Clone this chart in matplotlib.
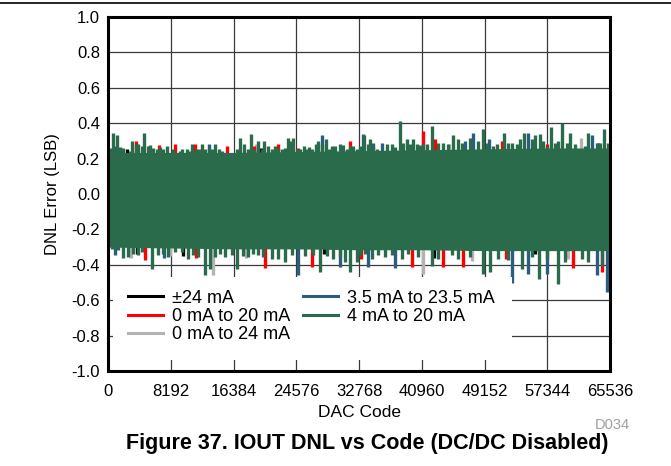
import numpy as np
import matplotlib
matplotlib.use('Agg')
import matplotlib.pyplot as plt
from matplotlib.lines import Line2D
from matplotlib.patches import Rectangle

plt.rcParams['font.family'] = ['Liberation Sans', 'DejaVu Sans']

# ----- data -----
x_ticks = [0, 8192, 16384, 24576, 32768, 40960, 49152, 57344, 65536]
y_ticks = [-1.0, -0.8, -0.6, -0.4, -0.2, 0.0, 0.2, 0.4, 0.6, 0.8, 1.0]

# dense body of the DNL traces (envelope)
band_codes = [0, 8192, 16384, 24576, 32768, 40960, 49152, 57344, 65536]
band_top = [0.235, 0.235, 0.235, 0.24, 0.245, 0.25, 0.255, 0.26, 0.26]
band_bot = [-0.30, -0.305, -0.31, -0.31, -0.315, -0.315, -0.32, -0.32, -0.32]

# green (4 mA to 20 mA) outline, top edge
green_up_codes = [222, 658, 1093, 1529, 1964, 2835, 3140, 3576, 3924, 4360, 4708, 5143, 5448,
                  5884, 6319, 6755, 7190, 7626, 8497, 9368, 9673, 10239, 10674, 10979, 11415,
                  11850, 12286, 12634, 13157, 13592, 13940, 14463, 14898, 16771, 17207, 17773,
                  18208, 18600, 19080, 19602, 20038, 20386, 20821, 21344, 21780, 22215, 22651,
                  23086, 23522, 23870, 24175, 24610, 25046, 25612, 25917, 26222, 26658, 27093,
                  27441, 27877, 28443, 28835, 29270, 29619, 30272, 30707, 31143, 31578, 32014,
                  32449, 32885, 33450, 33886, 34191, 34626, 35062, 36368, 37022, 37457, 38110,
                  38546, 38981, 39417, 39852, 40288, 40723, 41159, 41594, 42335, 43119, 43772,
                  44425, 45078, 45732, 46167, 47256, 48345, 48998, 49433, 50304, 50740, 51741,
                  52264, 52700, 53353, 53788, 54354, 55312, 55748, 56401, 56837, 57272, 57795,
                  58361, 58797, 59320, 59885, 60321, 60974, 62281, 62716, 63805, 64241, 64807,
                  65329]
green_up_vals = [0.262, 0.347, 0.332, 0.267, 0.262, 0.242, 0.30, 0.28, 0.28, 0.271, 0.347, 0.271, 0.275,
                 0.262, 0.252, 0.267, 0.252, 0.271, 0.256, 0.242, 0.256, 0.252, 0.242, 0.28, 0.256,
                 0.256, 0.28, 0.256, 0.26, 0.252, 0.284, 0.252, 0.242, 0.256, 0.315, 0.28,
                 0.256, 0.337, 0.256, 0.30, 0.256, 0.30, 0.271, 0.256, 0.271, 0.262, 0.252,
                 0.262, 0.316, 0.30, 0.315, 0.252, 0.256, 0.271, 0.256, 0.267, 0.256, 0.28,
                 0.30, 0.28, 0.31, 0.256, 0.271, 0.271, 0.284, 0.275, 0.256, 0.27, 0.271,
                 0.256, 0.271, 0.332, 0.28, 0.313, 0.27, 0.252, 0.28, 0.284, 0.267, 0.413,
                 0.29, 0.309, 0.28, 0.313, 0.28, 0.275, 0.28, 0.28, 0.385, 0.29, 0.29,
                 0.28, 0.332, 0.309, 0.29, 0.319, 0.30, 0.366, 0.29, 0.271, 0.28, 0.347,
                 0.29, 0.29, 0.28, 0.309, 0.347, 0.309, 0.332, 0.337, 0.30, 0.271, 0.381,
                 0.29, 0.30, 0.40, 0.29, 0.347, 0.28, 0.271, 0.347, 0.29, 0.29, 0.366,
                 0.29]
# green bottom edge
green_dn_codes = [440, 1311, 1964, 2618, 3271, 3924, 4360, 5666, 6537, 7190, 7844, 8715, 9586,
                  10457, 11110, 11763, 12634, 13287, 13941, 14594, 15247, 16118, 16771, 17642,
                  18296, 18949, 19602, 20255, 21344, 22215, 23086, 23957, 25699, 26787, 27659,
                  28530, 29400, 30272, 30925, 31578, 32449, 32884, 33538, 34409, 35280, 36151,
                  37022, 38328, 39199, 40506, 42248, 43119, 44861, 45732, 47256, 48998, 49869,
                  50958, 52264, 54006, 55312, 56271, 57272, 58797, 59668, 61846, 62716, 64458]
green_dn_vals = [-0.309, -0.318, -0.36, -0.357, -0.337, -0.347, -0.328, -0.423, -0.347, -0.337, -0.357, -0.328, -0.328,
                 -0.37, -0.347, -0.357, -0.457, -0.423, -0.357, -0.337, -0.357, -0.347, -0.423, -0.35,
                 -0.357, -0.337, -0.347, -0.357, -0.37, -0.37, -0.385, -0.347, -0.35, -0.347, -0.442,
                 -0.35, -0.37, -0.357, -0.385, -0.442, -0.385, -0.347, -0.337, -0.366, -0.347, -0.357,
                 -0.347, -0.366, -0.337, -0.357, -0.404, -0.366, -0.347, -0.366, -0.357, -0.452, -0.442,
                 -0.366, -0.375, -0.423, -0.357, -0.481, -0.366, -0.509, -0.385, -0.366, -0.385, -0.404]

# other series where they show outside the green trace
red_up_codes = [3576, 6624, 8714, 11334, 15500, 19000, 22215, 24800, 31578, 41159, 42683,
                51393, 57300, 64000]
red_up_vals = [0.30, 0.275, 0.284, 0.28, 0.27, 0.27, 0.28, 0.26, 0.30, 0.356, 0.309,
               0.30, 0.28, 0.29]
blue_up_codes = [900, 13157, 27877, 33320, 34626, 35715, 46603, 47691, 49738, 54877, 63152]
blue_up_vals = [0.27, 0.284, 0.332, 0.337, 0.29, 0.29, 0.30, 0.343, 0.313, 0.343, 0.332]
black_up_codes = [2400, 19900]
black_up_vals = [0.256, 0.26]
gray_up_codes = [19300, 44500, 61758]
gray_up_vals = [0.28, 0.28, 0.319]

red_dn_codes = [4800, 11500, 20470, 26660, 33000, 39640, 43780, 46390, 52000, 60760, 64540]
red_dn_vals = [-0.375, -0.36, -0.42, -0.41, -0.37, -0.41, -0.41, -0.41, -0.37, -0.42, -0.44]
blue_dn_codes = [875, 7300, 24740, 30270, 33970, 37460, 52710, 54880, 57300, 63800, 65100]
blue_dn_vals = [-0.347, -0.36, -0.457, -0.41, -0.41, -0.42, -0.50, -0.45, -0.45, -0.46, -0.556]
gray_dn_codes = [3000, 8000, 13680, 18000, 41160, 47500, 60100]
gray_dn_vals = [-0.36, -0.35, -0.46, -0.36, -0.45, -0.38, -0.37]
black_dn_codes = [3800, 9800, 28200, 42500, 55800]
black_dn_vals = [-0.34, -0.35, -0.34, -0.36, -0.34]

labels = ['\u00b124 mA', '0 mA to 20 mA', '0 mA to 24 mA', '3.5 mA to 23.5 mA', '4 mA to 20 mA']
c_black = '#000000'
c_red = '#ff0000'
c_gray = '#b3b3b3'
c_blue = '#2b5d80'
c_green = '#2a6b4b'

fig = plt.figure(figsize=(6.71, 4.66), dpi=100)
ax = fig.add_axes([108.3 / 671, 1 - 371 / 466, 501.6 / 671, 354 / 466])

spike_lw = 2.4
# other series first, green on top
for codes, vals, col in [(gray_up_codes, gray_up_vals, c_gray), (gray_dn_codes, gray_dn_vals, c_gray),
                         (black_up_codes, black_up_vals, c_black), (black_dn_codes, black_dn_vals, c_black),
                         (red_up_codes, red_up_vals, c_red), (red_dn_codes, red_dn_vals, c_red),
                         (blue_up_codes, blue_up_vals, c_blue), (blue_dn_codes, blue_dn_vals, c_blue)]:
    ax.vlines(codes, 0, vals, colors=col, lw=spike_lw, zorder=2)

ax.fill_between(band_codes, band_bot, band_top, color=c_green, lw=0, zorder=3)
ax.vlines(green_up_codes, 0, green_up_vals, colors=c_green, lw=spike_lw, zorder=3)
ax.vlines(green_dn_codes, 0, green_dn_vals, colors=c_green, lw=spike_lw, zorder=3)

ax.set_xlim(0, 65536)
ax.set_ylim(-1.0, 1.0)
ax.set_xticks(x_ticks)
ax.set_xticklabels([str(v) for v in x_ticks])
ax.set_yticks(y_ticks)
ax.set_yticklabels([f"{v:.1f}" for v in y_ticks])
ax.tick_params(length=0, labelsize=12)
ax.tick_params(axis='x', pad=9)
ax.tick_params(axis='y', pad=6)
ax.grid(True, color='#3a3a3a', lw=0.9, zorder=1)
ax.set_axisbelow(True)
for s in ax.spines.values():
    s.set_linewidth(2.2)
    s.set_zorder(10)

# white legend box that hides the grid
ax.add_patch(Rectangle((0.009, 0.031), 0.796, 0.235, transform=ax.transAxes,
                       facecolor='white', edgecolor='none', zorder=5))
handles = [Line2D([], [], color=c, lw=2.2) for c in [c_black, c_red, c_gray, c_blue, c_green]]
leg = ax.legend(handles, labels, ncol=2, loc='upper left', bbox_to_anchor=(0.040, 0.230),
                frameon=False, fontsize=13, handlelength=1.9, handletextpad=0.5,
                columnspacing=0.75, labelspacing=0.08, borderpad=0, borderaxespad=0)
leg.set_zorder(6)

ax.set_xlabel('DAC Code', fontsize=12.5, labelpad=5)
ax.set_ylabel('DNL Error (LSB)', fontsize=12, labelpad=8)

fig.text(612 / 671, 1 - 425 / 466, 'D034', fontsize=10.5, color='#a0a0a0', ha='center', va='center')
fig.text(367 / 671, 1 - 443 / 466, 'Figure 37. IOUT DNL vs Code (DC/DC Disabled)',
         fontsize=15.5, fontweight='bold', ha='center', va='center')
fig.add_artist(Line2D([0, 1], [1 - 3.3 / 466, 1 - 3.3 / 466], color='black', lw=1.2,
                      transform=fig.transFigure))

fig.savefig('out.png', dpi=100)
